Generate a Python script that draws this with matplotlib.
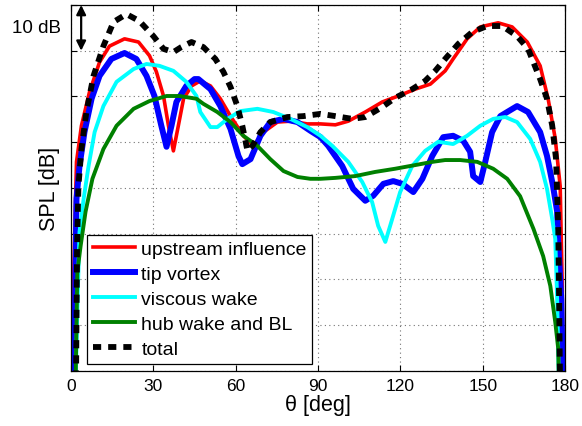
import matplotlib
matplotlib.use("Agg")
import matplotlib.pyplot as plt

plt.rcParams["font.family"] = ["Liberation Sans", "DejaVu Sans"]

# Sound pressure level directivity (dB, arbitrary reference) vs angle (deg)
theta_up = [0.2, 0.55, 1.3, 2.0, 3.8, 6.7, 10.4, 14.0, 19.5, 24.6, 28.6, 31.1,
            33.7, 35.5, 37.3, 39.1, 41.0, 43.9, 47.1, 50.8, 54.4, 58.1, 62.8,
            66.4, 70.1, 75.2, 79.9, 86.1, 90.9, 96.3, 101.0, 107.2, 113.4,
            119.2, 125.4, 130.9, 136.3, 139.2, 144.3, 149.1, 155.6, 160.7,
            166.2, 170.9, 173.8, 176.4, 178.2, 178.9, 179.3]
spl_up = [-5, 9.2, 28.9, 45.7, 53.6, 60.9, 67.5, 71.0, 72.6, 71.9, 68.9, 65.4,
          60.1, 53.6, 48.1, 53.6, 59.5, 62.3, 63.4, 62.3, 59.5, 55.7, 51.4,
          49.2, 52.2, 54.4, 54.6, 54.0, 54.0, 53.8, 54.6, 56.6, 58.8,
          60.1, 61.6, 62.7, 65.6, 68.2, 72.6, 75.2, 76.1, 75.2,
          71.9, 66.7, 59.5, 50.8, 40.4, 20.1, -5]

theta_tip = [1.1, 1.6, 2.0, 3.1, 4.9, 7.5, 10.4, 14.7, 19.5, 23.8, 27.5, 30.4,
             32.9, 34.8, 36.6, 38.4, 42.0, 45.0, 46.4, 50.8, 54.4, 58.1, 61.0,
             62.4, 65.4, 69.0, 72.6, 77.4, 82.5, 87.2, 90.9, 93.7, 98.8, 102.8,
             107.2, 110.1, 113.8, 117.4, 120.7, 124.7, 128.0, 131.6, 135.6,
             139.2, 142.9, 145.4, 146.5, 149.1, 150.9, 153.4, 156.4, 162.5,
             166.5, 170.9, 173.4, 175.6, 177.1, 177.4, 178.6, 179.3]
spl_tip = [-5, 20.1, 37.6, 44.8, 52.2, 59.5, 64.5, 68.2, 69.5, 68.2, 64.5, 60.1,
           53.6, 49.0, 53.6, 58.8, 62.3, 63.8, 63.8, 61.6, 57.9, 52.9, 47.0,
           45.2, 46.3, 51.4, 54.4, 55.1, 54.4, 52.5, 51.1, 49.2, 44.8, 39.8,
           37.2, 38.3, 40.9, 41.5, 40.9, 39.1, 42.0, 47.0, 51.1,
           51.4, 50.3, 47.9, 42.6, 41.3, 45.7, 52.2, 55.7, 57.9,
           56.6, 52.2, 47.0, 40.4, 34.8, 28.9, 15.7, -5]

theta_visc = [1.6, 2.4, 3.1, 4.6, 6.4, 8.6, 11.8, 16.6, 22.8, 27.5, 32.2, 37.3,
              42.0, 45.7, 47.1, 50.8, 53.3, 57.0, 61.7, 67.9, 73.7, 79.9, 86.1,
              90.9, 95.2, 101.0, 106.1, 109.7, 111.9, 114.5, 117.0, 119.9,
              124.3, 129.0, 133.8, 139.2, 144.3, 149.1, 153.8, 158.2, 162.5,
              167.3, 170.9, 173.4, 175.3, 176.4, 177.1, 177.8]
spl_visc = [-5, 15.7, 30.4, 37.6, 44.8, 52.2, 57.9, 63.2, 66.0, 67.1, 66.7, 65.6,
            63.2, 60.1, 56.6, 53.3, 53.3, 55.1, 56.8, 57.3, 56.6, 55.1, 53.3,
            51.4, 49.2, 45.7, 41.3, 36.9, 31.7, 28.2, 33.2, 39.1,
            44.8, 48.1, 50.1, 49.6, 51.4, 53.6, 55.1, 55.5, 54.4,
            50.7, 45.7, 39.8, 33.2, 28.9, 15.7, -5]

theta_hub = [1.6, 2.3, 3.5, 5.3, 7.8, 11.8, 16.6, 22.8, 28.6, 34.8, 39.5, 45.7,
             48.2, 53.3, 58.1, 62.8, 67.9, 72.6, 77.4, 82.5, 87.2, 90.9, 96.3,
             103.6, 110.8, 118.1, 125.4, 131.6, 136.3, 141.8, 148.0, 153.8,
             158.9, 163.6, 168.5, 172.0, 174.6, 176.4, 177.5, 177.8]
spl_hub = [-5, 21.6, 27.3, 34.8, 42.0, 48.5, 53.6, 57.3, 59.0, 60.1, 60.1, 59.5,
           58.4, 56.6, 54.4, 51.4, 49.2, 46.3, 43.7, 42.4, 42.0, 42.0, 42.2,
           42.6, 43.5, 44.2, 45.0, 45.7, 46.1, 46.1, 45.7, 44.2,
           42.0, 38.2, 31.0, 25.1, 18.6, 10.7, 4.8, -5]

theta_tot = [1.8, 2.2, 2.7, 3.8, 5.6, 8.2, 11.8, 15.5, 20.2, 24.9, 30.0, 33.7,
             37.3, 40.2, 43.9, 48.2, 52.6, 55.5, 58.1, 60.6, 62.4, 64.3, 66.1,
             69.0, 72.6, 78.8, 84.6, 90.9, 96.3, 102.5, 107.2, 113.4, 118.1,
             124.3, 129.0, 132.7, 136.3, 141.1, 146.2, 151.6, 157.1, 162.5,
             166.5, 170.9, 173.4, 175.3, 176.7, 177.5, 177.8, 178.2]
spl_tot = [-5, 26.7, 40.4, 48.5, 56.6, 64.5, 71.0, 76.3, 78.0, 76.5, 73.2, 70.4,
           69.7, 70.8, 71.9, 70.8, 68.2, 65.4, 62.1, 57.9, 53.6, 48.1, 49.2,
           52.2, 54.4, 55.5, 55.7, 56.2, 55.7, 55.1, 55.5, 57.7, 59.7,
           61.6, 63.4, 65.6, 68.2, 71.5, 74.1, 75.4, 75.4, 73.2,
           70.4, 63.8, 59.5, 53.6, 46.3, 31.0, 15.7, -5]

fig = plt.figure(figsize=(5.82, 4.27), dpi=100)
ax = fig.add_axes([0.122, 0.129, 0.849, 0.857])

ax.plot(theta_up, spl_up, color="#ff0000", lw=2.6, label="upstream influence")
ax.plot(theta_tip, spl_tip, color="#0000ff", lw=4.3, label="tip vortex")
ax.plot(theta_visc, spl_visc, color="#00ffff", lw=2.8, label="viscous wake")
ax.plot(theta_hub, spl_hub, color="#008000", lw=2.8, label="hub wake and BL")
ax.plot(theta_tot, spl_tot, color="black", lw=4.2, dashes=(1.4, 1.2), label="total")

ax.set_xlim(0, 180)
ax.set_ylim(0, 80)
ax.set_xticks(range(0, 181, 30))
ax.set_yticks(range(0, 81, 10))
ax.set_yticklabels([])
ax.tick_params(direction="in", top=True, right=True, length=4, width=0.8,
               labelsize=12.5, pad=5)
ax.grid(True, linestyle=(0, (1, 3)), color="0.45", lw=0.8)
for s in ax.spines.values():
    s.set_linewidth(0.9)

ax.set_xlabel("θ [deg]", fontsize=15.5, labelpad=1)
ax.set_ylabel("SPL [dB]", fontsize=15.5, labelpad=3)

# 10 dB scale arrow
ax.annotate("", xy=(3.7, 80), xytext=(3.7, 70),
            arrowprops=dict(arrowstyle="<|-|>", color="black", lw=1.6,
                            mutation_scale=14, shrinkA=0, shrinkB=0),
            annotation_clip=False)
ax.text(-0.02, 75, "10 dB", transform=ax.get_yaxis_transform(),
        ha="right", va="center", fontsize=13.5)

leg = ax.legend(loc="lower left", bbox_to_anchor=(0.032, 0.019),
                borderaxespad=0, fontsize=14, frameon=True, fancybox=False,
                framealpha=1, edgecolor="black", handlelength=2.2,
                handletextpad=0.3, labelspacing=0.38, borderpad=0.3)
leg.get_frame().set_linewidth(0.9)

fig.savefig("out.png", dpi=100)
